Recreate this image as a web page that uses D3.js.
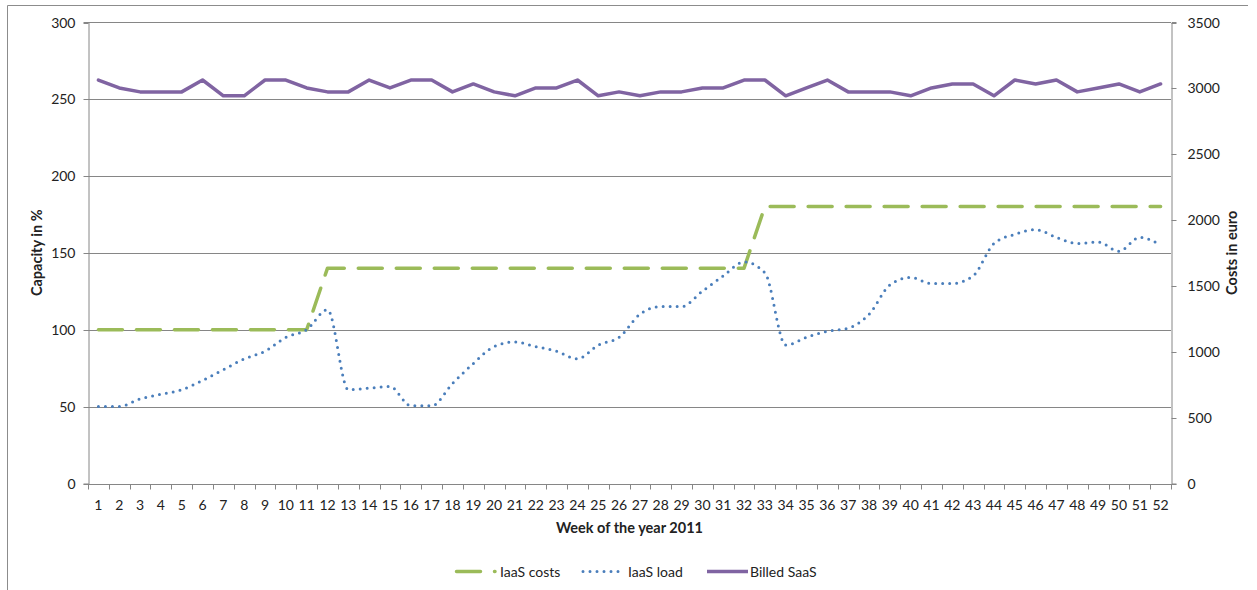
<!DOCTYPE html>
<html>
<head>
<meta charset="utf-8">
<script src="https://cdn.jsdelivr.net/npm/d3@7"></script>
<style>
  html, body { margin: 0; padding: 0; background: #fff; }
  svg { display: block; font-family: Lato, "Open Sans", sans-serif; }
</style>
</head>
<body>
<svg id="chart" width="1257" height="590"></svg>
<script>
// Weeks of 2011
const weeks = d3.range(1, 53);

// IaaS costs (left axis, capacity %): stepped provisioning levels
const iaasCosts = [
  100,100,100,100,100,100,100,100,100,100,100,
  140,140,140,140,140,140,140,140,140,140,140,140,140,140,140,140,140,140,140,140,140,
  180,180,180,180,180,180,180,180,180,180,180,180,180,180,180,180,180,180,180,180
];

// IaaS load (left axis, capacity %)
const iaasLoad = [
  50, 50, 55, 58, 61, 67, 74, 81, 86, 95,
  100,113, 61, 62, 63, 50.5, 50.5, 65, 78, 89,
  92, 89, 86, 81, 90, 95,110,115,115,125,
  135,144,137, 90, 95, 99,101,110,129,134,
  130,130,135,156,162,165,160,156,157,151,
  160,155
];

// Billed SaaS (right axis, euro)
const billedSaas = [
  3060,3000,2970,2970,2970,3060,2940,2940,3060,3060,
  3000,2970,2970,3060,3000,3060,3060,2970,3030,2970,
  2940,3000,3000,3060,2940,2970,2940,2970,2970,3000,
  3000,3060,3060,2940,3000,3060,2970,2970,2970,2940,
  3000,3030,3030,2940,3060,3030,3060,2970,3000,3030,
  2970,3030
];

const leftTicks = [0, 50, 100, 150, 200, 250, 300];
const rightTicks = [0, 500, 1000, 1500, 2000, 2500, 3000, 3500];

const seriesNames = ["IaaS costs", "IaaS load", "Billed SaaS"];
const colors = { costs: "#9BBB59", load: "#4A7EBB", saas: "#8064A2" };

const svg = d3.select("#chart");
const plot = { left: 88, right: 1171, top: 22, bottom: 483.5 };
const axisColor = "#868686";
const textColor = "#222";
const fontSize = "14px";

// Chart frame (top and left edges visible)
svg.append("path")
  .attr("d", `M7.5,${590} V5.5 H1248`)
  .attr("fill", "none")
  .attr("stroke", "#8c8c8c")
  .attr("stroke-width", 1);

const x = d3.scaleBand().domain(weeks).range([plot.left, plot.right]).padding(0);
const yL = d3.scaleLinear().domain([0, 300]).range([plot.bottom, plot.top]);
const yR = d3.scaleLinear().domain([0, 3500]).range([plot.bottom, plot.top]);
const cx = d => x(d) + x.bandwidth() / 2;

// Horizontal gridlines from the left axis
svg.append("g")
  .selectAll("line")
  .data(leftTicks.filter(t => t > 0))
  .join("line")
  .attr("x1", plot.left).attr("x2", plot.right)
  .attr("y1", d => Math.round(yL(d)) + 0.5).attr("y2", d => Math.round(yL(d)) + 0.5)
  .attr("stroke", axisColor).attr("stroke-width", 1);

// Left axis
const gL = svg.append("g")
  .attr("transform", `translate(${plot.left + 0.5},0)`)
  .call(d3.axisLeft(yL).tickValues(leftTicks).tickFormat(d3.format("d")).tickSize(5).tickPadding(8));
// Right axis
const gR = svg.append("g")
  .attr("transform", `translate(${plot.right + 0.5},0)`)
  .call(d3.axisRight(yR).tickValues(rightTicks).tickFormat(d3.format("d")).tickSize(5).tickPadding(11));
[gL, gR].forEach(g => {
  g.select(".domain").attr("stroke", axisColor);
  g.selectAll(".tick line").attr("stroke", axisColor);
  g.selectAll(".tick").attr("transform", function () {
    const t = d3.select(this).attr("transform");
    const m = /translate\(([^,]+),([^)]+)\)/.exec(t);
    return `translate(${m[1]},${Math.round(+m[2]) + 0.5})`;
  });
  g.selectAll(".tick text").attr("fill", textColor).style("font-size", fontSize).style("font-family", "Lato, sans-serif");
});

// Bottom category axis with ticks between categories
const gB = svg.append("g");
gB.append("line")
  .attr("x1", plot.left).attr("x2", plot.right + 1)
  .attr("y1", Math.round(plot.bottom) + 0.5).attr("y2", Math.round(plot.bottom) + 0.5)
  .attr("stroke", axisColor);
const edges = weeks.map(w => x(w)).concat([plot.right]);
gB.selectAll("line.tk").data(edges).join("line").attr("class", "tk")
  .attr("x1", d => Math.round(d) + 0.5).attr("x2", d => Math.round(d) + 0.5)
  .attr("y1", Math.round(plot.bottom)).attr("y2", Math.round(plot.bottom) + 5.5)
  .attr("stroke", axisColor);
gB.selectAll("text").data(weeks).join("text")
  .attr("x", d => cx(d)).attr("y", 510)
  .attr("text-anchor", "middle")
  .attr("fill", textColor)
  .style("font-size", fontSize)
  .text(d => d);

// Axis titles
svg.append("text")
  .attr("transform", `translate(42,${(plot.top + plot.bottom) / 2}) rotate(-90)`)
  .attr("text-anchor", "middle").attr("fill", textColor)
  .style("font-size", "14.5px").style("font-weight", "bold")
  .text("Capacity in %");
svg.append("text")
  .attr("transform", `translate(1237,${(plot.top + plot.bottom) / 2}) rotate(-90)`)
  .attr("text-anchor", "middle").attr("fill", textColor)
  .style("font-size", "14.5px").style("font-weight", "bold")
  .text("Costs in euro");
svg.append("text")
  .attr("x", (plot.left + plot.right) / 2).attr("y", 533)
  .attr("text-anchor", "middle").attr("fill", textColor)
  .style("font-size", "14.5px").style("font-weight", "bold")
  .text("Week of the year 2011");

// Series
const lineCosts = d3.line().x((d, i) => cx(weeks[i])).y(d => yL(d));
const lineLoad = d3.line().x((d, i) => cx(weeks[i])).y(d => yL(d)).curve(d3.curveMonotoneX);
const lineSaas = d3.line().x((d, i) => cx(weeks[i])).y(d => yR(d));

const dashStyle = { width: 3.5, dash: "24 14" };
const dotStyle = { width: 3, dash: "0 7" };

svg.append("path").datum(iaasCosts)
  .attr("d", lineCosts).attr("fill", "none")
  .attr("stroke", colors.costs).attr("stroke-width", dashStyle.width)
  .attr("stroke-dasharray", dashStyle.dash).attr("stroke-linecap", "round").attr("stroke-linejoin", "round");

svg.append("path").datum(iaasLoad)
  .attr("d", lineLoad).attr("fill", "none")
  .attr("stroke", colors.load).attr("stroke-width", dotStyle.width)
  .attr("stroke-dasharray", dotStyle.dash).attr("stroke-linecap", "round");

svg.append("path").datum(billedSaas)
  .attr("d", lineSaas).attr("fill", "none")
  .attr("stroke", colors.saas).attr("stroke-width", 3.5)
  .attr("stroke-linejoin", "round").attr("stroke-linecap", "round");

// Legend
const legendY = 571.5;
const legend = [
  { name: seriesNames[0], x1: 456.5, x2: 495, tx: 500, stroke: colors.costs, w: dashStyle.width, dash: dashStyle.dash },
  { name: seriesNames[1], x1: 583, x2: 620, tx: 628, stroke: colors.load, w: dotStyle.width, dash: dotStyle.dash },
  { name: seriesNames[2], x1: 707, x2: 748, tx: 750, stroke: colors.saas, w: 3.5, dash: null }
];
const lg = svg.append("g").selectAll("g").data(legend).join("g");
lg.append("line")
  .attr("x1", d => d.x1).attr("x2", d => d.x2)
  .attr("y1", legendY).attr("y2", legendY)
  .attr("stroke", d => d.stroke).attr("stroke-width", d => d.w)
  .attr("stroke-dasharray", d => d.dash)
  .attr("stroke-linecap", d => d.dash ? "round" : "butt");
lg.append("text")
  .attr("x", d => d.tx).attr("y", legendY + 5)
  .attr("fill", textColor)
  .style("font-size", fontSize)
  .text(d => d.name);
</script>
</body>
</html>
